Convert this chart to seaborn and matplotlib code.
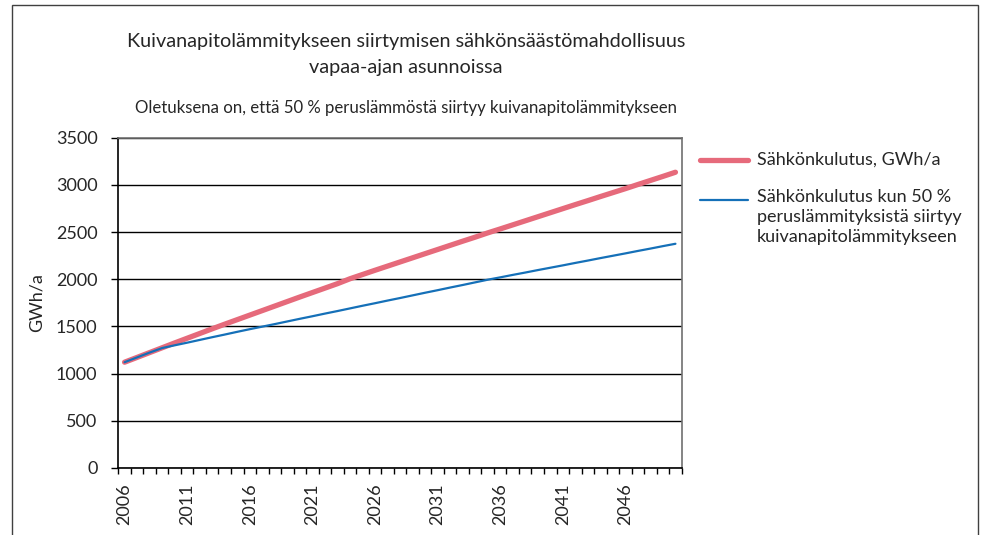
import matplotlib
matplotlib.use("Agg")
import matplotlib.pyplot as plt
from matplotlib.lines import Line2D
from matplotlib.patches import Rectangle
import numpy as np
import pandas as pd
import seaborn as sns

# years on the category axis
years = list(range(2006, 2051))

# electricity use, GWh/a
kulutus = [1121, 1172, 1223, 1274, 1325, 1375, 1425, 1475, 1524, 1572,
           1620, 1668, 1716, 1764, 1812, 1859, 1906, 1953, 2005, 2050,
           2095, 2139, 2183, 2227, 2271, 2315, 2359, 2403, 2446, 2491,
           2533, 2576, 2619, 2662, 2705, 2748, 2791, 2833, 2876, 2918,
           2960, 3004, 3047, 3090, 3134]

# electricity use if 50 % of base heating moves to frost-protection heating
kulutus_50 = [1121, 1172, 1223, 1271, 1300, 1328, 1357, 1386, 1414, 1443,
              1471, 1498, 1525, 1553, 1581, 1608, 1636, 1663, 1691, 1719,
              1746, 1774, 1801, 1829, 1857, 1884, 1912, 1939, 1967, 1995,
              2020, 2046, 2071, 2097, 2122, 2147, 2173, 2198, 2224, 2249,
              2274, 2300, 2325, 2351, 2376]

label_a = "Sähkönkulutus, GWh/a"
label_b = "Sähkönkulutus kun 50 %\nperuslämmityksistä siirtyy\nkuivanapitolämmitykseen"
y_ticks = [0, 500, 1000, 1500, 2000, 2500, 3000, 3500]
x_labels = [2006, 2011, 2016, 2021, 2026, 2031, 2036, 2041, 2046]

df = pd.DataFrame({"Vuosi": years * 2,
                   "GWh/a": kulutus + kulutus_50,
                   "Sarja": ["a"] * len(years) + ["b"] * len(years)})

sns.set_theme(style="white")
plt.rcParams["font.family"] = ["Lato", "DejaVu Sans"]

red = "#E66A7B"
blue = "#1570B8"

fig = plt.figure(figsize=(9.81, 5.35), dpi=100)
ax = fig.add_axes([118.3 / 981, 1 - 468 / 535, (681.7 - 118.3) / 981, (468 - 137.7) / 535])

sns.lineplot(data=df, x="Vuosi", y="GWh/a", hue="Sarja", size="Sarja",
             palette={"a": red, "b": blue}, sizes={"a": 3.8, "b": 1.6},
             legend=False, ax=ax, solid_capstyle="round")

ax.set_xlim(2005.5, 2050.5)
ax.set_ylim(0, 3500)
ax.set_yticks(y_ticks)
ax.set_yticklabels([str(v) for v in y_ticks], fontsize=13)
ax.set_xticks(x_labels)
ax.set_xticklabels([str(v) for v in x_labels], rotation=90, fontsize=13)
ax.set_xticks(np.arange(2005.5, 2051, 1.0), minor=True)
ax.tick_params(axis="x", which="major", length=0, pad=11)
ax.tick_params(axis="x", which="minor", length=4.5, width=1, color="black", direction="out", bottom=True)
ax.tick_params(axis="y", which="major", length=5, width=1, color="black", direction="out", left=True, pad=10)
ax.set_xlabel("")
ax.set_ylabel("GWh/a", fontsize=13, labelpad=8)

ax.grid(axis="y", color="black", linewidth=1)
ax.set_axisbelow(True)
for s in ["left", "bottom"]:
    ax.spines[s].set_color("black")
    ax.spines[s].set_linewidth(1.2)
for s in ["top", "right"]:
    ax.spines[s].set_color("#707070")
    ax.spines[s].set_linewidth(1.2)

# titles
cx = 406 / 981
fig.text(cx, 1 - 42 / 535, "Kuivanapitolämmitykseen siirtymisen sähkönsäästömahdollisuus",
         ha="center", va="center", fontsize=14.3)
fig.text(cx, 1 - 67 / 535, "vapaa-ajan asunnoissa", ha="center", va="center", fontsize=14.3)
fig.text(cx, 1 - 108 / 535,
         "Oletuksena on, että 50 % peruslämmöstä siirtyy kuivanapitolämmitykseen",
         ha="center", va="center", fontsize=12.1)

# legend
fig.add_artist(Line2D([700 / 981, 748 / 981], [1 - 160 / 535] * 2, color=red, lw=3.8))
fig.text(757 / 981, 1 - 160 / 535, label_a, ha="left", va="center", fontsize=13)
fig.add_artist(Line2D([700 / 981, 748 / 981], [1 - 200 / 535] * 2, color=blue, lw=1.6))
fig.text(757 / 981, 1 - 189 / 535, label_b, ha="left", va="top", fontsize=13,
         linespacing=1.3)

# outer frame
fig.add_artist(Rectangle((12 / 981, -0.1), (978 - 12) / 981, 1.1 - 5 / 535,
                         transform=fig.transFigure, fill=False, edgecolor="#404040", lw=1))

fig.savefig("out.png", dpi=100)
